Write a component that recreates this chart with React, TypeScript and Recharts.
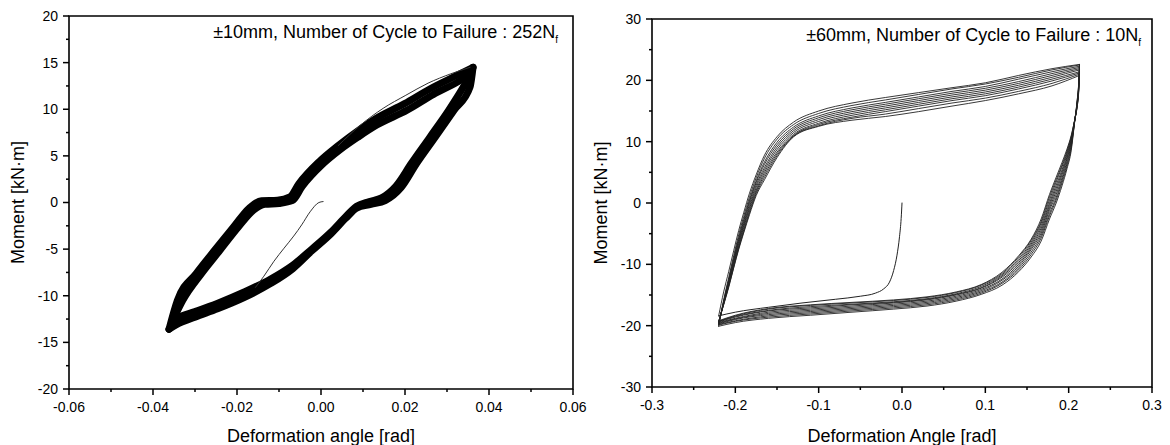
import React from "react";
import { LineChart, Line, XAxis, YAxis, ReferenceArea } from "recharts";

const FONT = "'Liberation Sans', Arial, sans-serif";

// ---------- left panel: ±10mm, 252 cycles -> a thick band, drawn as its outer and inner edge cycles
const outerUpperAngle = [
  -0.0362, -0.0342, -0.0297, -0.0253, -0.0208, -0.0171, -0.0142, -0.0104, -0.0074, -0.0053, -0.0004,
  0.0038, 0.0082, 0.0127, 0.0199, 0.026, 0.0322, 0.0362,
];
const outerUpperMoment = [-13.6, -10.5, -7.6, -5.1, -2.6, -0.6, 0.2, 0.25, 0.6, 2.0, 4.4, 6.0, 7.5, 8.9, 10.6, 12.2, 13.6, 14.5];
const outerLowerAngle = [
  0.0362, 0.0355, 0.0317, 0.0272, 0.0228, 0.0191, 0.0153, 0.0119, 0.0085, 0.0059, 0.0023, -0.0022,
  -0.0067, -0.012, -0.0183, -0.0246, -0.03, -0.0344, -0.0362,
];
const outerLowerMoment = [14.5, 12.4, 9.9, 7.0, 4.2, 1.6, 0.2, -0.2, -0.6, -1.7, -3.4, -5.2, -7.1, -8.7, -10.2, -11.4, -12.3, -13.1, -13.6];

const innerUpperAngle = [
  -0.0352, -0.0329, -0.0284, -0.024, -0.0196, -0.016, -0.0134, -0.01, -0.0068, -0.0045, 0.0004,
  0.0044, 0.0088, 0.0133, 0.0205, 0.0268, 0.0332, 0.0358,
];
const innerUpperMoment = [-12.6, -10.5, -7.6, -5.1, -2.6, -0.8, -0.2, -0.1, 0.2, 1.7, 4.1, 5.6, 7.0, 8.3, 9.9, 11.6, 13.1, 13.9];
const innerLowerAngle = [
  0.0358, 0.0339, 0.0304, 0.0259, 0.0215, 0.0179, 0.0144, 0.0115, 0.0085, 0.0059, 0.0023, -0.0022,
  -0.0067, -0.012, -0.0183, -0.0246, -0.03, -0.0344, -0.0352,
];
const innerLowerMoment = [13.9, 12.4, 9.9, 7.0, 4.2, 1.8, 0.5, 0.1, -0.4, -1.5, -3.2, -5.0, -6.7, -8.2, -9.6, -10.8, -11.7, -12.4, -12.6];

const firstAngle = [0.0041, 0.0094, 0.0148, 0.0202, 0.0255, 0.0309, 0.0355];
const firstMoment = [6.1, 8.3, 10.1, 11.5, 12.8, 13.8, 14.5];
const initAngle = [0.0005, -0.0005, -0.0026, -0.0046, -0.0065, -0.0088, -0.0112, -0.0136, -0.0156];
const initMoment = [0.1, 0.0, -1.0, -2.4, -3.6, -4.9, -6.3, -7.9, -9.1];

// ---------- right panel: ±60mm, 10 cycles
const upperAngle = [
  -0.22, -0.214, -0.208, -0.202, -0.196, -0.19, -0.183, -0.175, -0.165, -0.15, -0.13, -0.1, -0.06,
  -0.02, 0.02, 0.06, 0.1, 0.14, 0.18, 0.213,
];
const upperMoment = [
  [-18.4, -14.5, -11.2, -7.8, -4.5, -1.6, 1.6, 4.6, 7.8, 10.8, 13.2, 15.0, 16.3, 17.2, 18.0, 18.8, 19.6, 20.8, 21.9, 22.6],
  [-20.1, -15.8, -12.2, -8.6, -5.2, -2.2, 1.0, 4.1, 7.3, 10.4, 12.8, 14.6, 15.9, 16.8, 17.7, 18.6, 19.4, 20.5, 21.7, 22.5],
  [-19.9, -16.0, -12.5, -9.0, -5.7, -2.7, 0.5, 3.6, 6.7, 9.9, 12.4, 14.2, 15.5, 16.4, 17.3, 18.2, 19.0, 20.2, 21.4, 22.3],
  [-19.8, -16.1, -12.7, -9.3, -6.0, -3.0, 0.2, 3.3, 6.3, 9.5, 12.1, 13.9, 15.2, 16.1, 17.0, 17.9, 18.7, 19.8, 21.1, 22.1],
  [-19.7, -16.2, -12.9, -9.5, -6.3, -3.4, -0.2, 2.9, 5.8, 9.1, 11.8, 13.6, 14.9, 15.8, 16.7, 17.6, 18.4, 19.5, 20.8, 21.9],
  [-19.6, -16.3, -13.1, -9.8, -6.6, -3.7, -0.6, 2.5, 5.4, 8.7, 11.5, 13.3, 14.6, 15.5, 16.4, 17.3, 18.1, 19.2, 20.5, 21.7],
  [-19.5, -16.4, -13.3, -10.0, -6.9, -4.0, -0.9, 2.1, 5.0, 8.3, 11.2, 13.0, 14.3, 15.2, 16.1, 17.0, 17.8, 18.9, 20.2, 21.4],
  [-19.4, -16.5, -13.5, -10.3, -7.2, -4.4, -1.3, 1.8, 4.6, 8.0, 11.0, 12.8, 14.0, 14.9, 15.8, 16.7, 17.5, 18.6, 19.9, 21.2],
  [-19.3, -16.5, -13.6, -10.5, -7.4, -4.7, -1.6, 1.5, 4.2, 7.7, 10.9, 12.6, 13.8, 14.5, 15.4, 16.3, 17.1, 18.2, 19.5, 21.0],
  [-19.3, -16.6, -13.8, -10.6, -7.6, -4.9, -1.9, 1.2, 3.8, 7.4, 10.8, 12.5, 13.5, 14.1, 14.9, 15.8, 16.7, 17.8, 19.1, 20.8],
];
const lowerAngle = [
  0.212, 0.21, 0.207, 0.203, 0.198, 0.192, 0.185, 0.177, 0.167, 0.155, 0.14, 0.12, 0.095, 0.065,
  0.03, -0.01, -0.06, -0.11, -0.16, -0.2, -0.22,
];
const lowerMoment = [
  [19.5, 16.5, 13.0, 8.5, 5.6, 2.8, 0.0, -2.6, -6.2, -8.8, -11.2, -13.4, -14.9, -16.0, -16.8, -17.3, -17.8, -18.3, -18.8, -19.5, -20.1],
  [19.4, 16.4, 13.1, 8.9, 6.0, 3.3, 0.5, -2.1, -5.7, -8.4, -10.9, -13.1, -14.7, -15.8, -16.6, -17.1, -17.6, -18.1, -18.6, -19.3, -19.9],
  [19.2, 16.2, 13.1, 9.2, 6.4, 3.7, 0.9, -1.7, -5.3, -8.0, -10.6, -12.9, -14.5, -15.6, -16.4, -16.9, -17.4, -17.9, -18.4, -19.2, -19.8],
  [19.0, 16.1, 13.2, 9.5, 6.8, 4.1, 1.4, -1.2, -4.9, -7.6, -10.3, -12.6, -14.3, -15.4, -16.2, -16.7, -17.2, -17.7, -18.2, -19.0, -19.7],
  [18.9, 16.0, 13.2, 9.8, 7.2, 4.6, 1.9, -0.8, -4.5, -7.3, -10.0, -12.4, -14.1, -15.2, -16.0, -16.5, -17.0, -17.5, -18.0, -18.9, -19.6],
  [18.7, 15.9, 13.3, 10.1, 7.5, 5.0, 2.4, -0.4, -4.1, -7.0, -9.7, -12.1, -13.9, -15.0, -15.8, -16.3, -16.8, -17.3, -17.8, -18.8, -19.5],
  [18.5, 15.8, 13.3, 10.3, 7.9, 5.4, 2.9, 0.0, -3.7, -6.7, -9.4, -11.9, -13.8, -14.9, -15.7, -16.2, -16.6, -17.1, -17.6, -18.6, -19.4],
  [18.4, 15.7, 13.3, 10.6, 8.2, 5.9, 3.4, 0.5, -3.3, -6.4, -9.1, -11.7, -13.6, -14.8, -15.6, -16.1, -16.5, -16.9, -17.5, -18.5, -19.3],
  [18.2, 15.6, 13.4, 10.8, 8.5, 6.2, 3.8, 1.0, -3.0, -6.1, -8.8, -11.5, -13.4, -14.6, -15.4, -15.9, -16.3, -16.7, -17.3, -18.4, -19.3],
  [18.0, 15.5, 13.4, 11.0, 8.8, 6.6, 4.2, 1.4, -2.6, -5.9, -8.6, -11.3, -13.3, -14.5, -15.3, -15.8, -16.2, -16.6, -17.2, -18.3, -19.2],
];
const startAngle = [0, -0.001, -0.003, -0.006, -0.01, -0.015, -0.022, -0.032, -0.05, -0.08, -0.12, -0.16, -0.2, -0.22];
const startMoment = [0, -2.5, -5.5, -8.5, -11.0, -12.9, -14.0, -14.7, -15.2, -15.7, -16.3, -17.0, -17.8, -18.4];

// ---------- ticks (majors get labels, the rest are minor ticks)
const leftXTicks = [-0.06, -0.05, -0.04, -0.03, -0.02, -0.01, 0, 0.01, 0.02, 0.03, 0.04, 0.05, 0.06];
const leftYTicks = [-20, -17.5, -15, -12.5, -10, -7.5, -5, -2.5, 0, 2.5, 5, 7.5, 10, 12.5, 15, 17.5, 20];
const rightXTicks = [-0.3, -0.25, -0.2, -0.15, -0.1, -0.05, 0, 0.05, 0.1, 0.15, 0.2, 0.25, 0.3];
const rightYTicks = [-30, -25, -20, -15, -10, -5, 0, 5, 10, 15, 20, 25, 30];

const pts = (xs: number[], ys: number[]) => xs.map((x, i) => ({ x, y: ys[i] }));

const TICK = 6;
const X_GAP = 7;
const Y_GAP = 5;

const isMajor = (v: number, step: number) => Math.abs(Math.round(v / step) * step - v) < 1e-9;

const makeXTick = (step: number, digits: number) => (p: any) => {
  const { x, y, payload } = p;
  const v = payload.value as number;
  const major = isMajor(v, step);
  const y0 = y - TICK - X_GAP;
  return (
    <g>
      <line x1={x} x2={x} y1={y0} y2={y0 + (major ? TICK : 3)} stroke="#000" strokeWidth={1.5} />
      {major && (
        <text x={x} y={y} dy="0.71em" textAnchor="middle" fontSize={14} fontFamily={FONT} fill="#000">
          {v.toFixed(digits)}
        </text>
      )}
    </g>
  );
};

const makeYTick = (step: number) => (p: any) => {
  const { x, y, payload } = p;
  const v = payload.value as number;
  const major = isMajor(v, step);
  const x0 = x + TICK + Y_GAP;
  return (
    <g>
      <line x1={x0} x2={x0 - (major ? TICK : 3)} y1={y} y2={y} stroke="#000" strokeWidth={1.5} />
      {major && (
        <text x={x} y={y} dy="0.355em" textAnchor="end" fontSize={14} fontFamily={FONT} fill="#000">
          {v.toFixed(0)}
        </text>
      )}
    </g>
  );
};

type Series = { data: { x: number; y: number }[]; width: number; color: string };

type PanelProps = {
  left: number;
  width: number;
  top: number;
  right: number;
  plotBottom: number;
  yAxisWidth: number;
  xDomain: [number, number];
  yDomain: [number, number];
  xTicks: number[];
  yTicks: number[];
  xStep: number;
  yStep: number;
  xDigits: number;
  xTitle: string;
  yTitleOffset: number;
  note: string;
  noteInset: number;
  series: Series[];
};

const HEIGHT = 445;

function Panel(props: PanelProps) {
  const { left, width, top, right, plotBottom, yAxisWidth, xDomain, yDomain, note, noteInset } = props;
  return (
    <div style={{ position: "absolute", left, top: 0, width, height: HEIGHT }}>
      <LineChart width={width} height={HEIGHT} margin={{ top, right, bottom: 0, left: 0 }}>
        <XAxis
          type="number"
          dataKey="x"
          domain={xDomain}
          ticks={props.xTicks}
          interval={0}
          height={HEIGHT - plotBottom}
          axisLine={false}
          tickLine={false}
          tickSize={TICK}
          tickMargin={X_GAP}
          tick={makeXTick(props.xStep, props.xDigits)}
          allowDataOverflow
          label={{
            content: (lp: any) => {
              const vb = lp.viewBox || { x: yAxisWidth, y: plotBottom, width: width - yAxisWidth - right, height: HEIGHT - plotBottom };
              return (
                <text x={vb.x + vb.width / 2} y={vb.y + vb.height - 3} textAnchor="middle" fontSize={18} fontFamily={FONT} fill="#000">
                  {props.xTitle}
                </text>
              );
            },
          }}
        />
        <YAxis
          type="number"
          dataKey="y"
          domain={yDomain}
          ticks={props.yTicks}
          interval={0}
          width={yAxisWidth}
          axisLine={false}
          tickLine={false}
          tickSize={TICK}
          tickMargin={Y_GAP}
          tick={makeYTick(props.yStep)}
          allowDataOverflow
          label={{
            content: (lp: any) => {
              const vb = lp.viewBox || { x: 0, y: top, width: yAxisWidth, height: plotBottom - top };
              const cx = vb.x + props.yTitleOffset;
              const cy = vb.y + vb.height / 2;
              return (
                <text x={cx} y={cy} dy="0.36em" transform={`rotate(-90 ${cx} ${cy})`} textAnchor="middle" fontSize={18} fontFamily={FONT} fill="#000">
                  Moment [kN·m]
                </text>
              );
            },
          }}
        />
        <ReferenceArea
          x1={xDomain[0]}
          x2={xDomain[1]}
          y1={yDomain[0]}
          y2={yDomain[1]}
          fill="none"
          stroke="#000"
          strokeWidth={1.6}
          ifOverflow="visible"
          label={{
            content: (lp: any) => {
              const vb = lp.viewBox || { x: yAxisWidth, y: top, width: width - yAxisWidth - right, height: 0 };
              return (
                <text x={vb.x + vb.width - noteInset} y={vb.y + 22} textAnchor="end" fontSize={18} fontFamily={FONT} fill="#000">
                  {note}
                  <tspan fontSize={10} dy={5}>f</tspan>
                </text>
              );
            },
          }}
        />
        {props.series.map((s, i) => (
          <Line
            key={i}
            data={s.data}
            dataKey="y"
            type="monotoneX"
            dot={false}
            activeDot={false}
            stroke={s.color}
            strokeWidth={s.width}
            strokeLinejoin="round"
            strokeLinecap="round"
            isAnimationActive={false}
          />
        ))}
      </LineChart>
    </div>
  );
}

export default function App() {
  const leftSeries: Series[] = [
    { data: pts(outerUpperAngle, outerUpperMoment), width: 7, color: "#000" },
    { data: pts(outerLowerAngle, outerLowerMoment), width: 7, color: "#000" },
    { data: pts(innerUpperAngle, innerUpperMoment), width: 7, color: "#000" },
    { data: pts(innerLowerAngle, innerLowerMoment), width: 7, color: "#000" },
    { data: pts(firstAngle, firstMoment), width: 1, color: "#333" },
    { data: pts(initAngle, initMoment), width: 1, color: "#333" },
  ];
  const rightSeries: Series[] = [{ data: pts(startAngle, startMoment), width: 1, color: "#222" }];
  upperMoment.forEach((u, i) => {
    const tip = { x: upperAngle[upperAngle.length - 1], y: u[u.length - 1] };
    rightSeries.push({ data: pts(upperAngle, u), width: 0.9, color: "#222" });
    rightSeries.push({ data: [tip, ...pts(lowerAngle, lowerMoment[i])], width: 0.9, color: "#222" });
  });

  return (
    <div style={{ position: "absolute", left: 0, top: 0, width: 1170, height: HEIGHT, background: "#fff", fontFamily: FONT }}>
      <Panel
        left={0}
        width={600}
        top={16}
        right={27}
        plotBottom={389}
        yAxisWidth={69}
        xDomain={[-0.06, 0.06]}
        yDomain={[-20, 20]}
        xTicks={leftXTicks}
        yTicks={leftYTicks}
        xStep={0.02}
        yStep={5}
        xDigits={2}
        xTitle="Deformation angle [rad]"
        yTitleOffset={18}
        note="±10mm, Number of Cycle to Failure : 252N"
        noteInset={15}
        series={leftSeries}
      />
      <Panel
        left={580}
        width={590}
        top={19}
        right={18}
        plotBottom={387}
        yAxisWidth={72}
        xDomain={[-0.3, 0.3]}
        yDomain={[-30, 30]}
        xTicks={rightXTicks}
        yTicks={rightYTicks}
        xStep={0.1}
        yStep={10}
        xDigits={1}
        xTitle="Deformation Angle [rad]"
        yTitleOffset={21}
        note="±60mm, Number of Cycle to Failure : 10N"
        noteInset={11}
        series={rightSeries}
      />
    </div>
  );
}
